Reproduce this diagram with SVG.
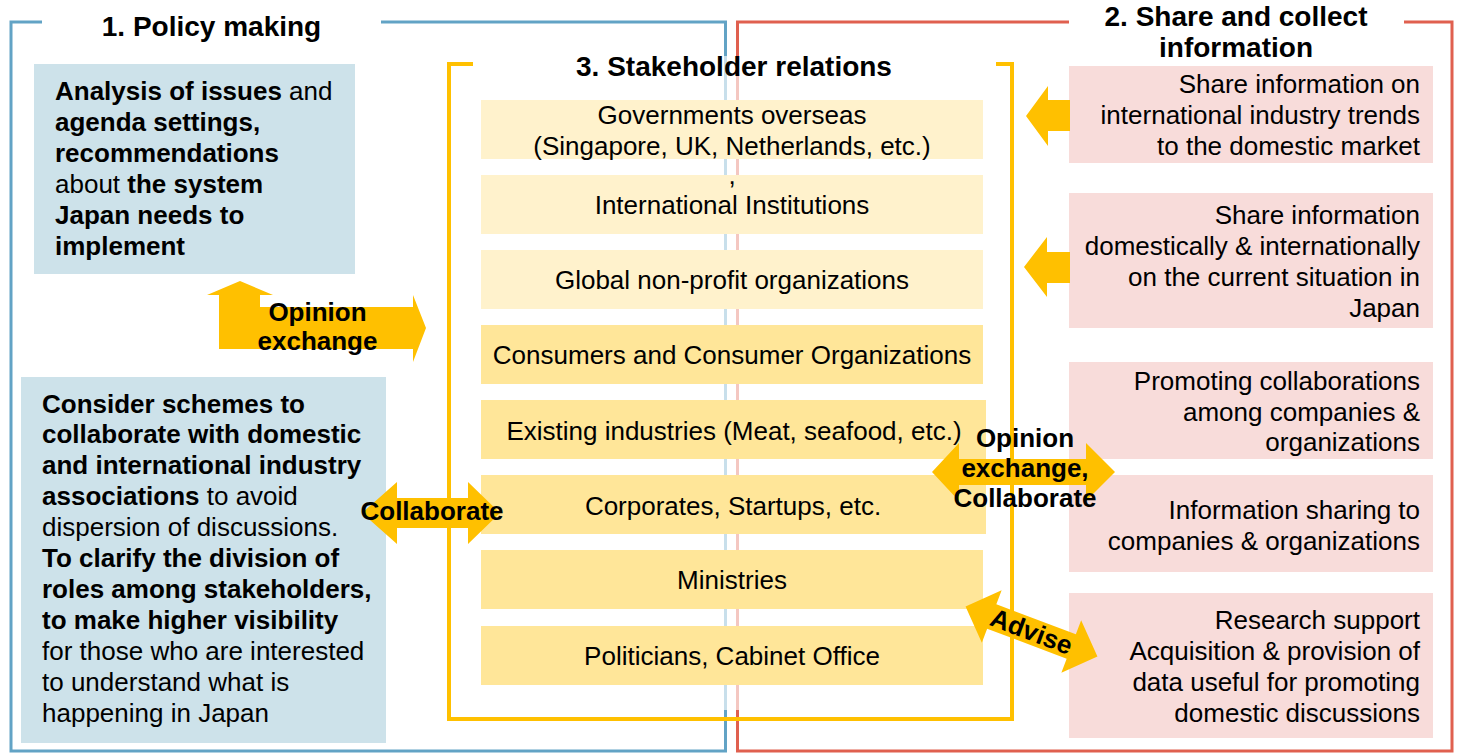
<svg xmlns="http://www.w3.org/2000/svg" width="1462" height="753" viewBox="0 0 1462 753">
<style>
text{font-family:"Liberation Sans",Arial,sans-serif;font-size:26px;fill:#000}
.b{font-weight:bold}
.t{font-weight:bold;font-size:28px;text-anchor:middle}
.m{text-anchor:middle}
.r{text-anchor:end}
.frame{fill:none}
.blue{fill:#cde2ea}
.pink{fill:#f8dcda}
.y1{fill:#fff2cc}
.y2{fill:#ffe699}
.arrow{fill:#ffc000}
</style>
<rect width="1462" height="753" fill="#fff"/>
<g id="frames">
<path class="frame" d="M42,22 L11,22 L11,751 L725.5,751 L725.5,22 L381,22" stroke="#62a3c5" stroke-width="3"/>
<path class="frame" d="M1069,22 L737.5,22 L737.5,751 L1452,751 L1452,22 L1404,22" stroke="#e0604f" stroke-width="3"/>
<rect x="451" y="56" width="559" height="654" fill="#fff" opacity="0.65"/>
<path class="frame" d="M473,64 L449,64 L449,719 L1012,719 L1012,64 L996,64" stroke="#ffc000" stroke-width="4"/>
</g>
<g id="titles">
<text class="t" x="211.5" y="36">1. Policy making</text>
<text class="t" x="1236" y="26">2. Share and collect</text>
<text class="t" x="1236" y="57">information</text>
<text class="t" x="734" y="76">3. Stakeholder relations</text>
</g>
<g id="policy-analysis">
<rect class="blue" x="34" y="64" width="321" height="210"/>
<text x="55" y="100"><tspan class="b">Analysis of issues</tspan> and</text>
<text class="b" x="55" y="131">agenda settings,</text>
<text class="b" x="55" y="162">recommendations</text>
<text x="55" y="193">about <tspan class="b">the system</tspan></text>
<text class="b" x="55" y="224">Japan needs to</text>
<text class="b" x="55" y="255">implement</text>
</g>
<g id="policy-schemes">
<rect class="blue" x="21" y="377" width="365" height="366"/>
<text class="b" x="42" y="413">Consider schemes to</text>
<text class="b" x="42" y="443">collaborate with domestic</text>
<text class="b" x="42" y="474">and international industry</text>
<text x="42" y="505"><tspan class="b">associations</tspan> to avoid</text>
<text x="42" y="536">dispersion of discussions.</text>
<text class="b" x="42" y="567">To clarify the division of</text>
<text class="b" x="42" y="598">roles among stakeholders,</text>
<text class="b" x="42" y="629">to make higher visibility</text>
<text x="42" y="660">for those who are interested</text>
<text x="42" y="691">to understand what is</text>
<text x="42" y="722">happening in Japan</text>
</g>
<g id="sh-governments"><rect class="y1" x="481" y="100" width="502" height="59"/>
<text class="m" x="732" y="124">Governments overseas</text>
<text class="m" x="732" y="155">(Singapore, UK, Netherlands, etc.)</text></g>
<g id="sh-international"><rect class="y1" x="481" y="175" width="502" height="59"/>
<text class="m" x="732" y="184">,</text>
<text class="m" x="732" y="214">International Institutions</text></g>
<g id="sh-nonprofit"><rect class="y1" x="481" y="250" width="502" height="59"/>
<text class="m" x="732" y="289">Global non-profit organizations</text></g>
<g id="sh-consumers"><rect class="y2" x="481" y="325" width="502" height="59"/>
<text class="m" x="732" y="364">Consumers and Consumer Organizations</text></g>
<g id="sh-existing"><rect class="y2" x="481" y="400" width="505" height="59"/>
<text class="m" x="734" y="440">Existing industries (Meat, seafood, etc.)</text></g>
<g id="sh-corporates"><rect class="y2" x="481" y="475" width="505" height="59"/>
<text class="m" x="733" y="515">Corporates, Startups, etc.</text></g>
<g id="sh-ministries"><rect class="y2" x="481" y="550" width="502" height="59"/>
<text class="m" x="732" y="589">Ministries</text></g>
<g id="sh-politicians"><rect class="y2" x="481" y="626" width="502" height="59"/>
<text class="m" x="732" y="665">Politicians, Cabinet Office</text></g>
<g id="info-trends"><rect class="pink" x="1069" y="66" width="364" height="97"/>
<text class="r" x="1420" y="93">Share information on</text>
<text class="r" x="1420" y="124">international industry trends</text>
<text class="r" x="1420" y="155">to the domestic market</text></g>
<g id="info-japan"><rect class="pink" x="1069" y="193" width="364" height="135"/>
<text class="r" x="1420" y="224">Share information</text>
<text class="r" x="1420" y="255">domestically &amp; internationally</text>
<text class="r" x="1420" y="286">on the current situation in</text>
<text class="r" x="1420" y="317">Japan</text></g>
<g id="info-promoting"><rect class="pink" x="1069" y="362" width="364" height="97"/>
<text class="r" x="1420" y="390">Promoting collaborations</text>
<text class="r" x="1420" y="421">among companies &amp;</text>
<text class="r" x="1420" y="451">organizations</text></g>
<g id="info-sharing"><rect class="pink" x="1069" y="475" width="364" height="97"/>
<text class="r" x="1420" y="519">Information sharing to</text>
<text class="r" x="1420" y="550">companies &amp; organizations</text></g>
<g id="info-research"><rect class="pink" x="1069" y="593" width="364" height="145"/>
<text class="r" x="1420" y="629">Research support</text>
<text class="r" x="1420" y="660">Acquisition &amp; provision of</text>
<text class="r" x="1420" y="691">data useful for promoting</text>
<text class="r" x="1420" y="722">domestic discussions</text></g>
<g id="connectors">
<polygon class="arrow" points="240,281 273,295 260,295 260,307 413,307 413,295 426,328 413,362 413,349 219,349 219,295 207,295"/>
<text class="b m" x="317.5" y="321">Opinion</text>
<text class="b m" x="317.5" y="350">exchange</text>
<polygon class="arrow" points="362,513 397,482 397,498 468,498 468,482 500,513 468,544 468,528 397,528 397,544"/>
<text class="b m" x="432" y="520">Collaborate</text>
<polygon class="arrow" points="932,472 959,443 959,459 1086,459 1086,443 1115,472 1086,501 1086,485 959,485 959,501"/>
<text class="b m" x="1025" y="447">Opinion</text>
<text class="b m" x="1025" y="477">exchange,</text>
<text class="b m" x="1025" y="507">Collaborate</text>
<polygon class="arrow" points="1026,116 1048,86 1048,100 1070,100 1070,131 1048,131 1048,146"/>
<polygon class="arrow" points="1024,267 1047,237 1047,252 1070,252 1070,283 1047,283 1047,297"/>
<g transform="translate(1031.5,631.5) rotate(20.7)">
<path class="arrow" d="M-70.5,0 L-42.5,-28 L-42.5,-13 L42.5,-13 L42.5,-28 L70.5,0 L42.5,28 L42.5,13 L-42.5,13 L-42.5,28 Z"/>
<text class="b m" x="0" y="9">Advise</text>
</g>
</g>
</svg>
